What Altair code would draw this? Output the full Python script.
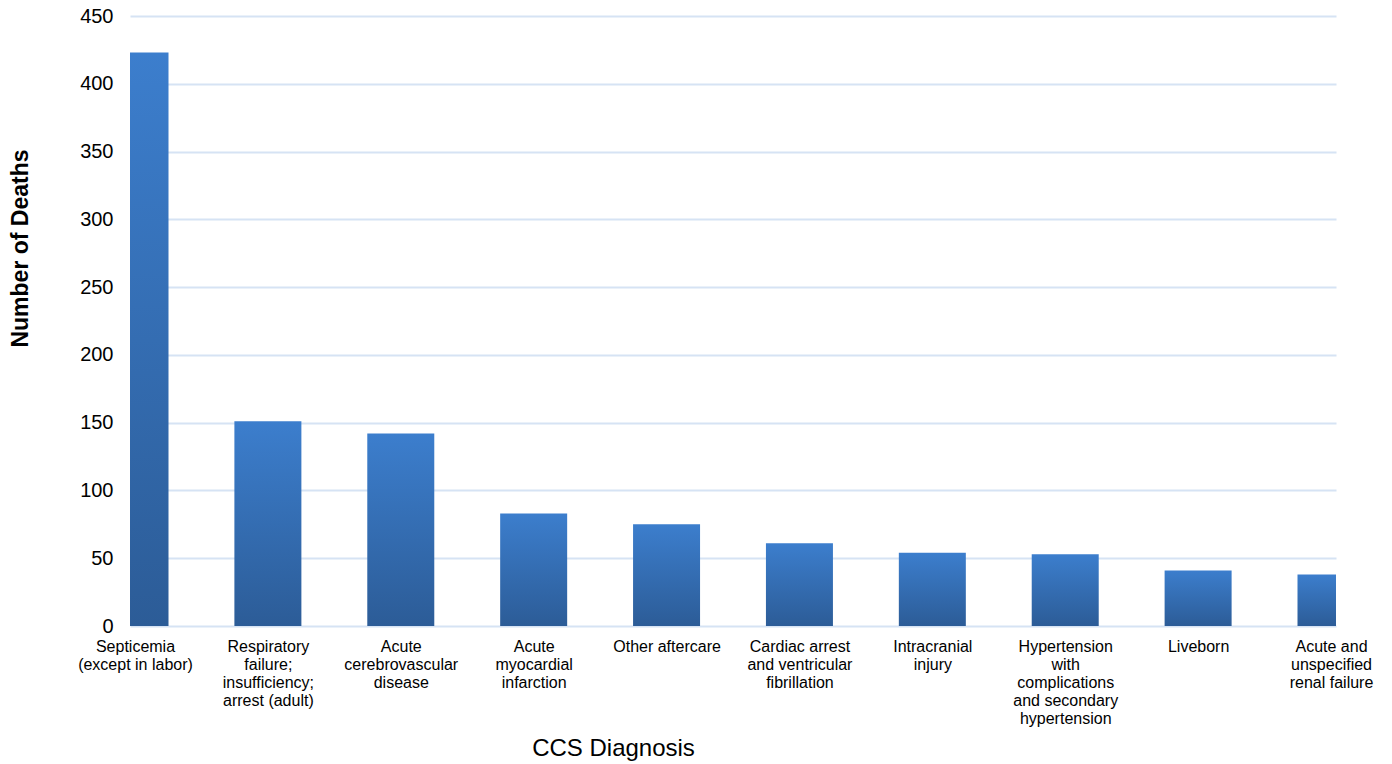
import json
import altair as alt
import pandas as pd

# CCS diagnosis categories (line breaks give the wrapped axis labels)
categories = [
    "Septicemia\n(except in labor)",
    "Respiratory\nfailure;\ninsufficiency;\narrest (adult)",
    "Acute\ncerebrovascular\ndisease",
    "Acute\nmyocardial\ninfarction",
    "Other aftercare",
    "Cardiac arrest\nand ventricular\nfibrillation",
    "Intracranial\ninjury",
    "Hypertension\nwith\ncomplications\nand secondary\nhypertension",
    "Liveborn",
    "Acute and\nunspecified\nrenal failure",
]
deaths = [423, 151, 142, 83, 75, 61, 54, 53, 41, 38]
y_ticks = list(range(0, 451, 50))

df = pd.DataFrame({
    "idx": list(range(len(categories))),
    "category": categories,
    "deaths": deaths,
})

label_lines = json.dumps([c.split("\n") for c in categories])
label_expr = f"{label_lines}[datum.value]"

bar_fill = alt.Gradient(
    gradient="linear",
    stops=[
        alt.GradientStop(color="#2c5c97", offset=0),
        alt.GradientStop(color="#3c7ecd", offset=1),
    ],
    x1=0, x2=0, y1=1, y2=0,
)

chart = (
    alt.Chart(df)
    .mark_bar(size=67, clip=True, color=bar_fill)
    .encode(
        x=alt.X(
            "idx:Q",
            scale=alt.Scale(domain=[0, len(categories) - 1], nice=False, zero=False),
            axis=alt.Axis(
                values=list(range(len(categories))),
                labelExpr=label_expr,
                labelFont="Liberation Sans",
                labelFontSize=16,
                labelLineHeight=18,
                labelColor="#000000",
                labelPadding=12,
                labelAngle=0,
                labelOverlap=False,
                labelFlush=False,
                domain=False,
                ticks=False,
                grid=False,
                title="CCS Diagnosis",
                titleFont="Liberation Sans",
                titleFontSize=24,
                titleFontWeight="normal",
                titleColor="#000000",
                titleX=483,
                titleY=122,
                titleAlign="center",
                titleBaseline="middle",
            ),
        ),
        y=alt.Y(
            "deaths:Q",
            scale=alt.Scale(domain=[0, 450], nice=False),
            axis=alt.Axis(
                values=y_ticks,
                labelFont="Liberation Sans",
                labelFontSize=20,
                labelColor="#000000",
                labelPadding=17,
                domain=False,
                ticks=False,
                grid=True,
                gridColor="#d6e3f4",
                gridWidth=2,
                title="Number of Deaths",
                titleFont="Liberation Sans",
                titleFontSize=23,
                titleFontWeight="bold",
                titleColor="#000000",
                titleAngle=-90,
                titleX=-110,
                titleY=232,
                titleAlign="center",
                titleBaseline="middle",
            ),
        ),
    )
    .properties(
        width=1206,
        height=610,
        background="#ffffff",
        autosize=alt.AutoSizeParams(type="none"),
        padding={"left": 130, "top": 16, "right": 56, "bottom": 138},
    )
    .configure_view(stroke=None, strokeWidth=0)
)

chart.save("out.html", embed_options={"renderer": "svg", "actions": False})
